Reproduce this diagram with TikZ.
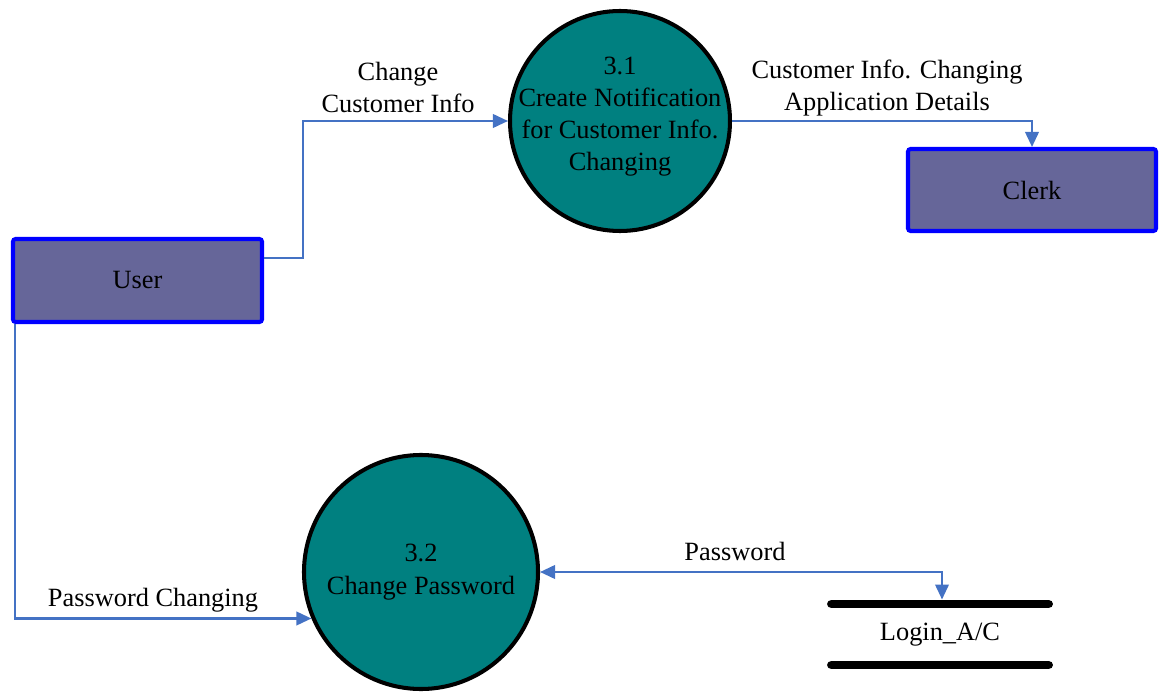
\documentclass[tikz,border=0pt]{standalone}
\usepackage{fontspec}
\setmainfont{Liberation Serif}
\usetikzlibrary{arrows.meta, positioning, calc}
\definecolor{c1}{HTML}{4472C4}
\definecolor{c2}{HTML}{0000FF}
\definecolor{c3}{HTML}{666699}
\definecolor{c4}{HTML}{008080}

\begin{document}
\begin{tikzpicture}[
    every node/.style={font=\fontsize{15}{18.2}\selectfont},
    flow/.style={-{Triangle[length=0.30cm, width=0.27cm]}, line width=1.3pt, color=c1},
    both/.style={{Triangle[length=0.30cm, width=0.27cm]}-{Triangle[length=0.30cm, width=0.27cm]},
                 line width=1.3pt, color=c1},
    ent/.style={rectangle, draw=c2, fill=c3, line width=2.3pt, rounded corners=1.5pt,
                inner sep=0pt},
    proc/.style={circle, draw=black, fill=c4, line width=2.3pt, inner sep=0pt},
    lab/.style={align=center},
    stline/.style={line width=5.1pt, line cap=round},
]
\useasboundingbox (0,0) rectangle (23.18,13.82);

% ================================================================ entities
\node[ent, minimum width=4.98cm, minimum height=1.66cm] (user) at (2.75, 8.21) {User};
\node[ent, minimum width=4.96cm, minimum height=1.64cm] (clerk) at (20.64, 10.02) {Clerk};

% ================================================================ processes
\node[proc, minimum size=4.40cm] (p31) at (12.40, 11.40) {};
\node[lab] (t31) at ([yshift=0.08cm]p31.center)
    {3.1\\Create Notification\\for Customer Info.\\Changing};
\node[proc, minimum size=4.68cm] (p32) at (8.42, 2.38) {};
\node[lab, font=\fontsize{15}{18.8}\selectfont] (t32) at (p32.center) {3.2\\Change Password};

% ================================================================ data store
\node[minimum width=4.34cm, minimum height=1.22cm, inner sep=0pt, outer sep=0pt]
    (store) at (18.80, 1.13) {Login\_A/C};
\draw[stline] (store.north west) -- (store.north east);
\draw[stline] (store.south west) -- (store.south east);

% ================================================================ flows
\draw[flow] ([yshift=0.45cm]user.east) -- ++(0.78,0) |- (p31);
\node[lab] (l1) at (7.96, 12.08) {Change\\Customer Info};

\draw[flow] (p31.east) -| (clerk.north);
\node[lab] (l2) at (17.74, 12.06) {Customer Info. Changing\\Application Details};

\draw[flow] ([xshift=0.08cm]user.south west) |- (p32.203);
\node[lab] (l3) at (3.06, 1.82) {Password Changing};

\draw[both] (p32.east) -| ([xshift=0.04cm, yshift=0.09cm]store.north);
\node[lab] (l4) at (14.70, 2.80) {Password};

\end{tikzpicture}
\end{document}
